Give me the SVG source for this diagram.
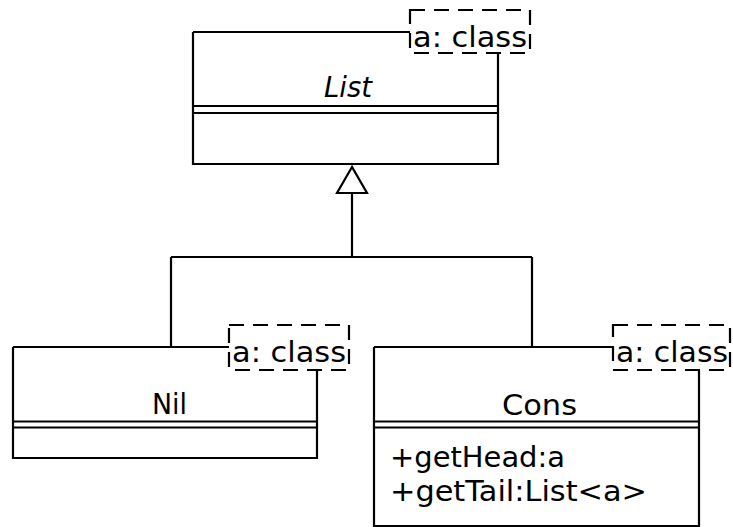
<svg xmlns="http://www.w3.org/2000/svg" width="733" height="527" viewBox="0 0 733 527">
  <style>
    .ln { fill: none; stroke: #000; stroke-width: 2.2; }
    .tpl { fill: #fff; stroke: #000; stroke-width: 2.2; stroke-dasharray: 15 9; }
    .t { font-family: "DejaVu Sans", "Liberation Sans", sans-serif; font-size: 29px; fill: #000; }
    .it { font-style: italic; }
  </style>
  <rect width="733" height="527" fill="#fff"/>

  <!-- generalization connectors -->
  <g id="connectors">
    <path class="ln" d="M352 193 V257 M171 257 H532 M171 257 V347 M532 257 V347"/>
    <polygon class="ln" points="352,167 337,193 367,193" fill="#fff"/>
  </g>

  <!-- abstract class List<a> -->
  <g id="List">
    <path class="ln" d="M193 32 H410 M193 32 V164 H498 V53 M193 106 H498 M193 113 H498"/>
    <rect class="tpl" x="410" y="10" width="120" height="43"/>
    <text class="t" x="413" y="47" textLength="114" lengthAdjust="spacingAndGlyphs">a: class</text>
    <text class="t it" x="324" y="97" textLength="48" lengthAdjust="spacingAndGlyphs">List</text>
  </g>

  <!-- class Nil -->
  <g id="Nil">
    <path class="ln" d="M13 347 H229 M13 347 V458 H317 V370 M13 421.5 H317 M13 427.5 H317"/>
    <rect class="tpl" x="229" y="325" width="120" height="45"/>
    <text class="t" x="232" y="362" textLength="114" lengthAdjust="spacingAndGlyphs">a: class</text>
    <text class="t" x="152" y="414" textLength="35" lengthAdjust="spacingAndGlyphs">Nil</text>
  </g>

  <!-- class Cons -->
  <g id="Cons">
    <path class="ln" d="M374 347 H613 M374 347 V526 H699 V370 M374 421.5 H699 M374 427.5 H699"/>
    <rect class="tpl" x="613" y="325" width="117" height="45"/>
    <text class="t" x="616" y="362" textLength="112" lengthAdjust="spacingAndGlyphs">a: class</text>
    <text class="t" x="502" y="415" textLength="75" lengthAdjust="spacingAndGlyphs">Cons</text>
    <text class="t" x="390" y="467" textLength="175" lengthAdjust="spacingAndGlyphs">+getHead:a</text>
    <text class="t" x="390" y="501" textLength="257" lengthAdjust="spacingAndGlyphs">+getTail:List&lt;a&gt;</text>
  </g>
</svg>
